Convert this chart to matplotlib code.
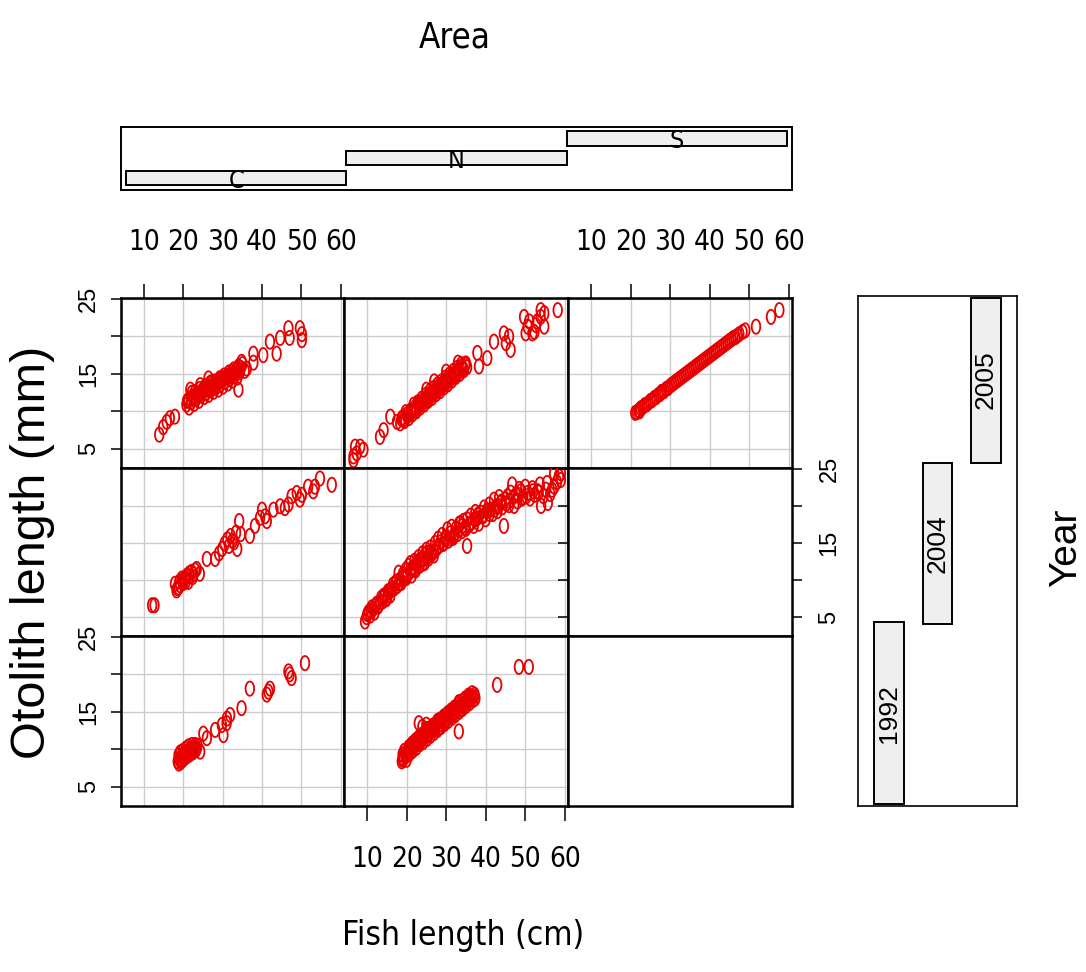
import numpy as np
import matplotlib
matplotlib.use("Agg")
import matplotlib.pyplot as plt

W, H = 1086, 972

# ---- data: (fish length cm, otolith length mm) ----
areas = ["C", "N", "S"]
years = ["1992", "2004", "2005"]

c2005_x = [13.9, 14.9, 15.8, 16.6, 17.9, 20.8, 21.3, 21.5, 22.0, 22.4, 22.8, 23.0, 23.3, 23.7, 24.0,
           24.2, 24.6, 25.0, 25.3, 25.6, 25.9, 26.2, 26.5, 26.8, 27.1, 27.4, 27.7, 28.0, 28.3, 28.6,
           28.9, 29.2, 29.5, 29.8, 30.1, 30.4, 30.7, 31.0, 31.3, 31.6, 31.9, 32.2, 32.5, 32.8, 33.1,
           33.4, 33.7, 34.0, 34.3, 34.6, 35.0, 34.0, 35.6, 24.3, 26.4, 21.8, 36.1, 37.8, 37.8, 40.3,
           42.0, 43.7, 44.6, 46.7, 47.0, 49.6, 50.1, 50.1,
           21.0, 21.9, 22.6, 23.4, 24.4, 25.2, 26.0, 26.9, 27.6, 28.4, 29.1, 29.9, 30.6, 31.4, 32.1,
           32.9, 33.6, 34.4, 22.2, 24.8, 27.3, 29.7, 32.3, 34.8]
c2005_y = [6.9, 7.9, 8.6, 9.1, 9.3, 10.9, 11.5, 10.5, 11.2, 12.0, 11.0, 12.6, 11.7, 12.3, 11.4,
           13.0, 12.1, 12.7, 11.9, 13.4, 12.5, 13.1, 12.2, 13.8, 12.9, 13.5, 12.6, 14.0, 13.2, 13.8,
           12.9, 14.4, 13.6, 14.1, 13.3, 14.8, 14.0, 14.6, 13.7, 15.2, 14.4, 15.0, 14.1, 15.6, 14.8,
           15.4, 14.5, 16.0, 15.2, 15.8, 16.3, 12.9, 15.4, 13.5, 14.4, 12.9, 15.7, 17.7, 16.5, 17.5,
           19.3, 17.7, 19.8, 21.1, 19.8, 21.1, 19.5, 20.3,
           11.4, 11.7, 11.6, 12.3, 12.4, 13.0, 12.9, 13.2, 13.1, 13.6, 13.9, 14.3, 14.5, 14.6, 14.7,
           15.1, 15.6, 15.5, 12.5, 12.8, 13.9, 14.5, 15.3, 16.6]

n2005_x = [6.6, 7.0, 8.3, 9.1, 6.6, 7.4, 13.3, 14.2, 15.9, 17.6, 18.4, 19.0, 19.5, 20.0, 20.6,
           21.0, 21.5, 22.0, 22.5, 23.0, 23.5, 24.0, 24.5, 25.0, 25.5, 26.0, 26.5, 27.0, 27.5, 28.0,
           28.5, 29.0, 29.5, 30.0, 30.5, 31.0, 31.5, 32.0, 32.5, 33.0, 33.5, 34.0, 34.5, 35.0, 35.3,
           27.0, 30.0, 33.0, 25.0, 37.9, 40.4, 38.3, 42.1, 44.6, 45.1, 46.3, 45.9, 49.7, 50.6, 51.8,
           52.7, 53.9, 54.8, 53.9, 52.3, 50.1, 54.8, 58.2, 51.0, 53.0,
           18.7, 19.3, 19.8, 20.3, 21.2, 21.8, 22.3, 22.8, 23.3, 23.8, 24.3, 24.8, 25.3, 25.8, 26.3,
           26.8, 27.3, 27.8, 28.3, 28.8, 29.3, 29.8, 30.3, 30.8, 31.3, 31.8, 32.3, 32.8, 33.3, 33.8,
           34.3, 34.8]
n2005_y = [4.0, 5.3, 5.3, 4.9, 3.5, 4.4, 6.6, 7.5, 9.3, 8.6, 8.4, 9.2, 8.7, 9.6, 9.1,
           10.1, 9.6, 10.5, 10.0, 11.0, 10.5, 11.4, 10.9, 11.9, 11.4, 12.4, 11.8, 12.8, 12.3, 13.3,
           12.7, 13.7, 13.2, 14.2, 13.6, 14.6, 14.1, 15.1, 14.6, 15.5, 15.0, 16.0, 15.5, 16.4, 15.9,
           14.0, 15.3, 16.5, 12.9, 17.8, 17.1, 16.0, 19.3, 20.4, 19.1, 18.2, 20.0, 22.6, 21.3, 20.4,
           21.5, 22.6, 23.1, 23.5, 20.6, 20.4, 21.3, 23.5, 22.0, 22.0,
           9.0, 8.9, 9.9, 9.4, 9.9, 10.9, 10.2, 11.2, 10.8, 11.7, 11.2, 12.2, 11.6, 12.7, 12.1,
           13.1, 12.6, 13.6, 13.0, 14.0, 13.5, 14.5, 13.9, 14.9, 14.4, 15.4, 14.8, 15.8, 15.3, 16.3,
           15.7, 16.2]

s2005_x = [21.2, 21.6, 22.0, 22.3, 22.5, 23.0, 23.5, 24.0, 24.5, 25.0, 25.5, 26.0, 26.5, 27.0, 27.5,
           27.8, 28.0, 28.5, 29.0, 29.5, 30.0, 30.5, 31.0, 31.5, 32.0, 32.5, 33.0, 33.5, 34.0, 34.5,
           35.0, 35.5, 36.0, 36.5, 37.0, 37.5, 38.0, 38.5, 39.0, 39.5, 40.0, 40.5, 41.0, 41.5, 42.0,
           42.5, 43.0, 43.5, 44.0, 44.5, 45.0, 45.5, 46.0, 46.5, 47.0, 47.5, 48.3, 49.0, 51.7, 55.5,
           57.6]
s2005_y = [9.8, 9.9, 10.1, 10.0, 10.4, 10.5, 10.8, 10.9, 11.1, 11.4, 11.5, 11.8, 11.9, 12.2, 12.3,
           12.6, 12.6, 12.7, 13.0, 13.1, 13.4, 13.6, 13.8, 14.0, 14.2, 14.4, 14.6, 14.8, 15.0, 15.2,
           15.4, 15.6, 15.8, 16.0, 16.2, 16.4, 16.6, 16.8, 17.0, 17.2, 17.4, 17.6, 17.8, 18.0, 18.2,
           18.4, 18.6, 18.8, 19.0, 19.2, 19.4, 19.6, 19.8, 19.9, 20.1, 20.3, 20.6, 20.8, 21.3, 22.6,
           23.5]

c2004_x = [12.1, 12.7, 17.9, 18.3, 18.8, 19.2, 19.6, 20.0, 20.4, 20.9, 21.3, 21.7, 22.1, 22.6, 23.0,
           23.4, 24.2, 26.0, 28.1, 29.1, 29.9, 30.5, 31.2, 31.6, 32.0, 32.5, 32.9, 33.4, 33.7, 34.2,
           34.6, 36.9, 38.2, 39.5, 40.0, 40.8, 41.2, 42.9, 44.6, 45.8, 46.7, 47.5, 48.8, 49.6, 50.1,
           51.7, 53.0, 53.4, 54.7, 57.7, 19.0, 19.8, 20.6, 21.5, 22.4, 18.5]
c2004_y = [6.6, 6.6, 9.5, 8.6, 9.0, 9.3, 10.2, 9.6, 10.3, 10.6, 9.75, 10.5, 11.1, 10.8, 11.3,
           11.5, 10.85, 12.85, 12.85, 13.6, 14.2, 14.9, 15.5, 14.6, 15.95, 15.3, 15.1, 16.4, 14.2, 17.96,
           16.2, 15.95, 17.3, 18.4, 19.5, 18.6, 17.96, 19.5, 19.96, 19.7, 20.2, 21.3, 21.75, 20.85, 21.5,
           22.6, 21.97, 22.6, 23.7, 22.85, 9.8, 9.9, 9.8, 10.9, 10.4, 8.9]

n2004_x = [9.5, 9.9, 10.4, 10.8, 11.2, 11.6, 11.9, 12.4, 12.8, 13.3, 13.6, 14.0, 14.5, 14.9, 15.3,
           15.5, 15.9, 16.3, 16.6, 17.0, 17.4, 17.7, 18.0, 18.4, 18.7, 19.1, 19.5, 19.8, 20.2, 20.5,
           20.9, 21.0, 21.3, 21.7, 22.0, 22.3, 22.6, 23.0, 23.3, 23.7, 24.0, 24.3, 24.6, 25.0, 25.2,
           25.6, 26.0, 26.4, 26.9, 27.2, 27.6, 28.0, 28.3, 28.6, 29.0, 29.4, 29.8, 30.3, 30.6, 31.0,
           31.4, 31.8, 32.0, 32.5, 32.9, 33.3, 33.6, 34.0, 34.4, 34.8, 35.3, 35.3, 35.8, 36.2, 36.6,
           37.0, 37.4, 37.8, 38.3, 38.7, 39.1, 39.6, 40.0, 40.5, 40.9, 41.3, 41.8, 42.1, 42.6, 43.0,
           43.4, 43.8, 44.2, 44.6, 45.0, 45.5, 45.9, 46.3, 46.7, 47.2, 47.6, 48.0, 48.5, 48.9, 49.5,
           50.0, 50.6, 51.2, 51.8, 52.4, 53.1, 53.7, 54.0, 54.6, 55.2, 55.7, 56.3, 57.3, 57.3, 58.0,
           59.0, 59.0, 58.5,
           10.1, 11.0, 12.0, 13.0, 14.2, 15.1, 16.0, 17.2, 18.2, 19.3, 20.0, 21.2, 22.1, 23.2, 24.1,
           25.4, 26.2, 27.0, 28.1, 29.2, 30.0, 31.2, 32.2, 33.1, 34.1, 35.0, 36.0, 37.2, 38.0, 39.3,
           40.2, 41.0, 42.3, 43.2, 44.0, 45.2, 46.0, 47.0, 48.2, 49.2, 50.3, 52.0, 53.4, 55.5, 56.8]
n2004_y = [4.4, 5.0, 5.7, 5.2, 6.3, 6.1, 5.6, 6.8, 6.4, 7.0, 7.6, 7.1, 7.9, 7.4, 8.5,
           8.3, 7.9, 8.8, 9.4, 8.9, 9.8, 9.2, 11.0, 10.1, 9.6, 10.8, 10.2, 11.4, 10.7, 11.9,
           11.1, 12.3, 10.6, 11.7, 12.6, 11.3, 12.4, 13.1, 11.9, 12.8, 13.6, 12.85, 12.3, 14.1, 13.7,
           12.9, 14.4, 13.5, 13.3, 15.0, 14.2, 15.6, 14.6, 15.1, 16.1, 14.9, 15.6, 16.85, 15.3, 16.3,
           17.2, 15.7, 15.95, 17.0, 16.2, 17.6, 17.7, 16.6, 18.0, 17.1, 18.2, 14.6, 17.4, 18.7, 17.8,
           17.3, 19.2, 18.3, 17.6, 19.1, 18.6, 19.8, 18.2, 19.3, 20.2, 19.5, 18.9, 20.85, 19.9, 19.3,
           21.2, 20.4, 19.8, 17.3, 20.9, 21.3, 20.1, 21.8, 22.9, 20.0, 21.5, 20.6, 22.3, 22.0, 21.2,
           22.6, 21.75, 21.0, 22.4, 21.5, 22.0, 22.9, 20.0, 21.3, 22.2, 20.4, 21.6, 22.6, 24.4, 23.2,
           24.4, 23.5, 24.0,
           5.4, 5.9, 6.5, 6.6, 7.9, 7.6, 8.6, 9.5, 9.6, 10.5, 10.3, 11.5, 11.5, 12.5, 12.2,
           13.2, 13.8, 13.9, 14.6, 14.9, 15.8, 15.6, 16.3, 16.8, 17.3, 16.9, 17.6, 18.2, 18.8, 18.6,
           19.3, 18.9, 19.5, 20.0, 20.6, 20.3, 20.7, 21.2, 21.5, 21.0, 21.3, 22.0, 21.8, 23.1, 22.2]

c1992_x = [18.6, 18.8, 19.0, 19.2, 19.4, 19.6, 19.9, 20.1, 20.3, 20.6, 20.8, 21.1, 21.3, 21.6, 21.9,
           22.2, 22.5, 22.8, 23.2, 23.6, 24.3, 25.1, 26.0, 28.1, 29.8, 30.2, 31.1, 31.9, 31.0, 34.8,
           36.9, 41.2, 42.0, 41.6, 46.7, 47.5, 47.0, 50.9,
           18.9, 19.3, 19.7, 20.0, 20.4, 20.7, 21.0, 21.4, 21.8, 22.1, 22.4, 23.0, 23.4]
c1992_y = [8.4, 9.2, 8.8, 9.6, 8.3, 9.1, 9.8, 8.7, 9.4, 10.1, 9.0, 9.7, 10.4, 9.3, 10.0,
           10.6, 9.6, 10.3, 9.9, 10.5, 9.7, 12.1, 11.5, 12.6, 13.25, 11.9, 14.1, 14.6, 13.5, 15.5,
           18.1, 17.3, 18.1, 17.7, 20.4, 19.5, 20.0, 21.5,
           8.1, 8.6, 8.5, 9.2, 8.9, 9.6, 9.3, 9.9, 9.6, 10.2, 10.0, 10.6, 10.1]

n1992_x = [18.8, 19.0, 19.2, 19.4, 19.7, 20.0, 20.2, 20.5, 20.8, 21.1, 21.4, 21.6, 21.9, 22.2, 22.5,
           22.8, 23.1, 23.1, 23.4, 23.7, 24.0, 24.3, 24.6, 24.9, 25.2, 25.5, 25.8, 26.1, 26.4, 26.7,
           27.0, 27.3, 27.6, 27.9, 28.2, 28.5, 28.8, 29.1, 29.4, 29.7, 30.0, 30.3, 30.6, 30.9, 31.2,
           31.5, 31.8, 32.1, 32.4, 32.7, 33.0, 33.2, 33.3, 33.6, 33.9, 34.2, 34.5, 34.8, 35.1, 35.4,
           35.7, 36.0, 36.3, 36.6, 36.9, 37.2, 37.4, 24.0, 25.0, 42.9, 48.4, 50.9,
           19.1, 19.6, 20.1, 20.6, 21.0, 21.5, 22.0, 22.4, 22.9, 23.3, 23.8, 24.2, 24.7, 25.1, 25.6,
           26.0, 26.5, 26.9, 27.4, 27.8, 28.3, 28.7, 29.2, 29.6, 30.1, 30.5, 31.0, 31.4, 31.9, 32.3,
           32.8, 33.2, 33.7, 34.1, 34.6, 35.0, 35.5, 36.1, 36.8]
n1992_y = [8.4, 9.3, 8.8, 9.8, 9.1, 8.6, 9.7, 10.3, 9.4, 10.0, 10.8, 9.8, 10.5, 11.2, 10.2,
           10.9, 13.5, 11.6, 10.7, 11.3, 12.0, 11.0, 11.7, 12.4, 11.4, 12.1, 12.8, 11.8, 12.5, 13.2,
           12.2, 12.9, 13.6, 12.6, 13.3, 14.0, 13.0, 13.7, 14.4, 13.4, 14.1, 14.8, 13.8, 14.5, 15.2,
           14.2, 14.9, 15.6, 14.6, 15.3, 16.0, 12.4, 15.0, 15.7, 16.4, 15.4, 16.1, 16.8, 15.8, 16.5,
           17.2, 16.2, 16.9, 17.5, 16.6, 17.3, 16.8, 13.0, 13.3, 18.6, 21.0, 21.0,
           8.6, 9.5, 9.2, 9.8, 10.5, 10.2, 10.9, 10.6, 11.5, 11.0, 11.9, 11.5, 12.2, 12.7, 12.0,
           12.5, 13.0, 12.6, 13.3, 13.8, 12.9, 13.9, 14.1, 13.6, 14.6, 14.2, 15.0, 14.5, 15.4, 15.0,
           15.6, 16.3, 15.3, 16.0, 16.6, 16.2, 17.0, 16.6, 17.0]

# panels[row][col], row 0 = top (2005), col 0 = C
panels = [[(c2005_x, c2005_y), (n2005_x, n2005_y), (s2005_x, s2005_y)],
          [(c2004_x, c2004_y), (n2004_x, n2004_y), None],
          [(c1992_x, c1992_y), (n1992_x, n1992_y), None]]

x_ticks = [10, 20, 30, 40, 50, 60]
y_ticks = [5, 10, 15, 20, 25]
y_labels = ["5", "", "15", "", "25"]

# conditioning bars (factor intervals)
area_lo = [0.5, 1.5, 2.5]
area_hi = [1.5, 2.5, 3.5]
year_lo = [0.51, 1.57, 2.52]
year_hi = [1.58, 2.52, 3.49]

narrow = ["DejaVu Sans", "Liberation Sans"]
wide = ["Liberation Sans", "DejaVu Sans"]

fig = plt.figure(figsize=(W / 100, H / 100), dpi=100)


def px_axes(x0, y0, x1, y1):
    return fig.add_axes([x0 / W, 1 - y1 / H, (x1 - x0) / W, (y1 - y0) / H])


def squeeze(texts):
    for tx in texts:
        tx.set_family(narrow)
        tx.set_fontstretch("condensed")


# ellipse-shaped open marker (the picture is squeezed sideways)
t = np.linspace(0, 2 * np.pi, 40)
oval = np.column_stack([0.6 * np.cos(t), np.sin(t)])

col_x = [121, 344, 568, 792]
row_y = [298, 468, 636, 806]

for r in range(3):
    for c in range(3):
        ax = px_axes(col_x[c], row_y[r], col_x[c + 1], row_y[r + 1])
        ax.set_xlim(4.2, 60.8)
        ax.set_ylim(2.45, 25.12)
        ax.set_xticks(x_ticks)
        ax.set_yticks(y_ticks)
        for s in ax.spines.values():
            s.set_linewidth(1.8)
        ax.tick_params(length=0, labelbottom=False, labelleft=False)
        d = panels[r][c]
        if d is not None:
            ax.grid(True, color="#cccccc", linewidth=1.0)
            ax.set_axisbelow(True)
            ax.scatter(d[0], d[1], marker=oval, s=105, facecolors="none",
                       edgecolors="#e80000", linewidths=1.3, zorder=3)
        # outer axes, alternating like R's coplot
        if r == 0 and c in (0, 2):
            ax.tick_params(axis="x", top=True, labeltop=True, length=10, width=1.1, pad=20)
            squeeze(ax.set_xticklabels([str(v) for v in x_ticks], fontsize=20))
        if r == 2 and c == 1:
            ax.tick_params(axis="x", bottom=True, labelbottom=True, length=11, width=1.1, pad=17)
            squeeze(ax.set_xticklabels([str(v) for v in x_ticks], fontsize=20))
        if c == 0 and r in (0, 2):
            ax.tick_params(axis="y", left=True, labelleft=True, length=7, width=1.1, pad=8)
            ax.set_yticklabels(y_labels, rotation=90, va="center", fontsize=17, family=wide)
        if c == 2 and r == 1:
            ax.tick_params(axis="y", right=True, labelright=True, length=7, width=1.1, pad=12)
            ax.set_yticklabels(y_labels, rotation=90, va="center", fontsize=17, family=wide)

# top conditioning panel (Area)
axa = px_axes(121, 127, 792, 190)
axa.barh([1, 2, 3], np.subtract(area_hi, area_lo), left=area_lo, height=0.73,
         color="#efefef", edgecolor="black", linewidth=1.4)
for i, lab in enumerate(areas):
    tx = axa.text((area_lo[i] + area_hi[i]) / 2, i + 0.85, lab, ha="center", va="center",
                  fontsize=18)
    squeeze([tx])
axa.set_xlim(0.477, 3.523)
axa.set_ylim(0.39, 3.58)
axa.set_xticks([])
axa.set_yticks([])
for s in axa.spines.values():
    s.set_linewidth(1.4)

# right conditioning panel (Year)
axy = px_axes(858, 296, 1017, 806)
axy.bar([1, 2, 3], np.subtract(year_hi, year_lo), bottom=year_lo, width=0.6,
        color="#efefef", edgecolor="black", linewidth=1.4)
for i, lab in enumerate(years):
    axy.text(i + 1, (year_lo[i] + year_hi[i]) / 2, lab, ha="center", va="center",
             rotation=90, fontsize=19, family=wide)
axy.set_xlim(0.36, 3.64)
axy.set_ylim(0.5, 3.5)
axy.set_xticks([])
axy.set_yticks([])
for s in axy.spines.values():
    s.set_linewidth(1.2)

squeeze([fig.text(455 / W, 1 - 38 / H, "Area", ha="center", va="center", fontsize=25),
         fig.text(463 / W, 1 - 935 / H, "Fish length (cm)", ha="center", va="center",
                  fontsize=24)])
fig.text(33 / W, 1 - 552 / H, "Otolith length (mm)", ha="center", va="center",
         rotation=90, fontsize=35, family=wide)
fig.text(1066 / W, 1 - 548 / H, "Year", ha="center", va="center", rotation=90,
         fontsize=28, family=wide)

plt.savefig("out.png", dpi=100)
plt.close()
